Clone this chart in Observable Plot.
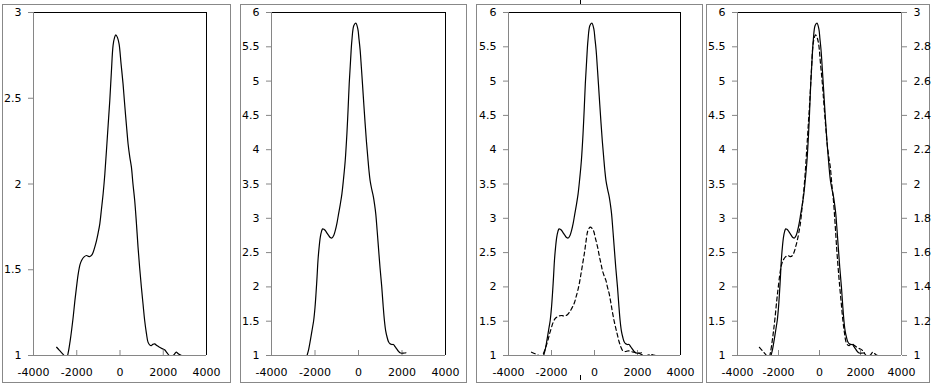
<!DOCTYPE html>
<html><head><meta charset="utf-8">
<script src="https://cdn.jsdelivr.net/npm/d3@7"></script>
<script src="https://cdn.jsdelivr.net/npm/@observablehq/plot@0.6"></script>
<style>
html,body{margin:0;padding:0;background:#fff;}
#wrap{position:relative;width:937px;height:384px;overflow:hidden;background:#fff;}
.box{position:absolute;box-sizing:border-box;border:1px solid #888;}
.slot{position:absolute;}
.slot svg{display:block;overflow:visible;}
.mark{position:absolute;width:1px;background:#000;}
</style></head><body><div id="wrap"></div>
<script>
// Series A (lower curve, peak ~2.87)
const seriesA_x = [-2930,-2800,-2650,-2550,-2450,-2390,-2300,-2240,-2160,-2086,-2010,-1932,-1850,-1778,-1660,-1547,-1460,-1394,-1310,-1240,-1160,-1086,-1010,-934,-860,-780,-700,-626,-550,-472,-400,-320,-250,-196,-120,-43,50,141,200,265,320,373,450,528,600,680,760,834,910,989,1065,1141,1220,1295,1370,1449,1520,1602,1700,1833,1950,2063,2180,2294,2400,2500,2602,2680,2755,2850,2940];
const seriesA_y = [1.048,1.03,1.01,0.995,0.995,1.02,1.09,1.146,1.23,1.32,1.40,1.476,1.53,1.554,1.575,1.583,1.578,1.577,1.585,1.602,1.635,1.67,1.715,1.768,1.85,1.943,2.06,2.195,2.34,2.487,2.65,2.808,2.855,2.87,2.855,2.817,2.70,2.584,2.49,2.39,2.31,2.235,2.16,2.098,2.00,1.904,1.77,1.632,1.51,1.398,1.30,1.204,1.13,1.078,1.062,1.058,1.065,1.068,1.058,1.048,1.04,1.033,1.015,0.998,0.997,1.005,1.02,1.012,1.005,1.0,0.999];
// Series B (upper curve, peak ~5.85)
const seriesB_x = [-2366,-2290,-2214,-2140,-2061,-2000,-1954,-1905,-1863,-1810,-1756,-1700,-1649,-1590,-1527,-1450,-1374,-1300,-1221,-1140,-1069,-990,-916,-840,-763,-690,-611,-534,-480,-427,-365,-305,-214,-122,-31,20,76,130,183,245,305,365,427,480,534,610,687,740,794,855,916,990,1069,1130,1191,1250,1313,1380,1450,1530,1603,1680,1756,1830,1908,1980,2061,2120,2183];
const seriesB_y = [1.0,1.09,1.22,1.36,1.51,1.70,1.90,2.15,2.385,2.58,2.725,2.81,2.846,2.84,2.822,2.785,2.75,2.72,2.712,2.75,2.82,2.93,3.065,3.20,3.357,3.57,3.84,4.23,4.58,4.96,5.30,5.59,5.81,5.845,5.76,5.62,5.45,5.21,4.96,4.66,4.38,4.12,3.89,3.70,3.55,3.42,3.31,3.20,3.065,2.83,2.58,2.28,2.0,1.74,1.51,1.36,1.27,1.20,1.17,1.16,1.16,1.13,1.097,1.065,1.04,1.033,1.034,1.036,1.04];

const xTicks = [-4000,-2000,0,2000,4000];
const yTicks3 = [1,1.5,2,2.5,3];
const yTicks6 = [1,1.5,2,2.5,3,3.5,4,4.5,5,5.5,6];
const yTicksRight = [1,1.2,1.4,1.6,1.8,2,2.2,2.4,2.6,2.8,3];

const A = seriesA_x.map((x,i)=>({x, y: seriesA_y[i]}));
const B = seriesB_x.map((x,i)=>({x, y: seriesB_y[i]}));

const GRAY = "#868686";
const FONT = "'DejaVu Sans', sans-serif";
const FS = "11px";
const wrap = document.getElementById("wrap");

function addBox(l,t,w,h){
  const d=document.createElement("div"); d.className="box";
  Object.assign(d.style,{left:l+"px",top:t+"px",width:w+"px",height:h+"px"});
  wrap.appendChild(d);
}
function addSlot(l,t,node){
  const d=document.createElement("div"); d.className="slot";
  Object.assign(d.style,{left:l+"px",top:t+"px"});
  d.appendChild(node); wrap.appendChild(d);
}
const fmt = d => String(d);

function lineMark(data, dashed){
  return Plot.line(data,{x:"x",y:"y",stroke:"#000",strokeWidth:1.2,curve:"catmull-rom",clip:true,
    strokeDasharray: dashed ? "4,3" : null});
}

function panel(cfg){
  const W=cfg.width, H=378;
  const plotH = H - 8 - 27;
  const marks = [
    Plot.ruleY([cfg.yDomain[1]],{stroke:"#000"}),
    Plot.ruleX([4000],{stroke: cfg.rightGray ? GRAY : "#000"}),
    Plot.ruleY([cfg.yDomain[0]],{stroke:GRAY}),
    Plot.ruleX([-4000],{stroke:GRAY}),
    Plot.tickX(xTicks.slice(1,-1),{x:d=>d,stroke:GRAY,insetTop:plotH-5}),
    Plot.axisY(cfg.yTicks,{anchor:"left",label:null,tickSize:5,tickPadding:7,stroke:GRAY,fill:"#000",tickFormat:fmt}),
    Plot.axisX(xTicks,{anchor:"bottom",label:null,tickSize:0,tickPadding:13,fill:"#000",tickFormat:fmt}),
    ...cfg.series.map(s=>lineMark(s.data,s.dashed))
  ];
  return Plot.plot({
    width:W,height:H,
    marginLeft:cfg.mL,marginRight:cfg.mR,marginTop:8,marginBottom:27,
    x:{domain:[-4000,4000],label:null},
    y:{domain:cfg.yDomain,label:null},
    style:{fontFamily:FONT,fontSize:FS,color:"#000",background:"transparent",overflow:"visible"},
    marks
  });
}

// Panel 1
addBox(2,4,229,379);
addSlot(2,4,panel({width:228,mL:31,mR:24,yDomain:[1,3],yTicks:yTicks3,series:[{data:A,dashed:false}]}));
// Panel 2
addBox(240,4,227,379);
addSlot(240,4,panel({width:227,mL:31,mR:22,yDomain:[1,6],yTicks:yTicks6,series:[{data:B,dashed:false}]}));
// Panel 3
addBox(476,4,227,379);
addSlot(476,4,panel({width:227,mL:32,mR:23,yDomain:[1,6],yTicks:yTicks6,series:[{data:A,dashed:true},{data:B,dashed:false}]}));
// Panel 4 (dual axis)
addBox(706,4,224,379);
addSlot(707,4,panel({width:222,mL:30,mR:28,yDomain:[1,6],yTicks:yTicks6,rightGray:true,series:[{data:B,dashed:false}]}));
addSlot(707,4,Plot.plot({
  width:222,height:378,marginLeft:30,marginRight:28,marginTop:8,marginBottom:27,
  x:{domain:[-4000,4000],axis:null,label:null},
  y:{domain:[1,3],label:null},
  style:{fontFamily:FONT,fontSize:FS,color:"#000",background:"transparent",overflow:"visible"},
  marks:[
    Plot.axisY(yTicksRight,{anchor:"right",label:null,tickSize:5,tickPadding:7,stroke:GRAY,fill:"#000",tickFormat:fmt}),
    lineMark(A,true)
  ]
}));

// small stray marks seen in the reference around x=580
[[580,0,4],[580,375,5]].forEach(([l,t,h])=>{
  const d=document.createElement("div"); d.className="mark";
  Object.assign(d.style,{left:l+"px",top:t+"px",height:h+"px"}); wrap.appendChild(d);
});
</script></body></html>
